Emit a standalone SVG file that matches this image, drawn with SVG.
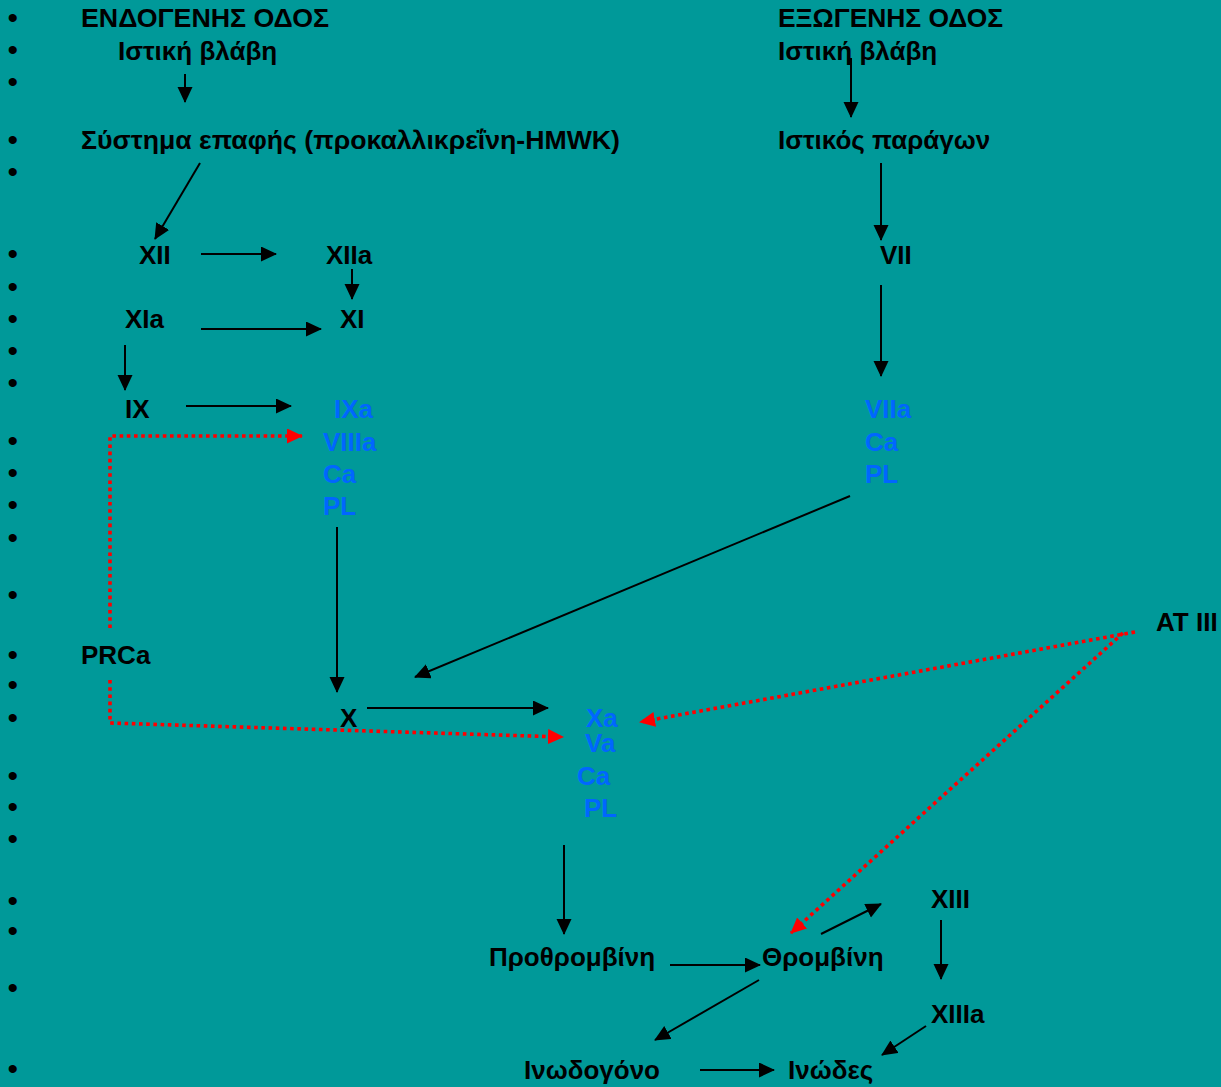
<svg xmlns="http://www.w3.org/2000/svg" width="1221" height="1087" viewBox="0 0 1221 1087">
  <style>
    .t { font-family: "Liberation Sans", Arial, sans-serif; font-weight: bold; font-size: 26px; fill: #000; }
    .b { fill: #0066ff; }
    .bul { font-family: "Liberation Sans", Arial, sans-serif; font-size: 30px; fill: #000; }
    .arr { stroke: #000; stroke-width: 2; fill: none; marker-end: url(#head); }
    .inh { stroke: #ff0000; stroke-width: 3.6; stroke-dasharray: 3.6 3.6; fill: none; marker-end: url(#redhead); }
  </style>
  <defs>
    <marker id="head" markerUnits="userSpaceOnUse" markerWidth="18" markerHeight="16" refX="15" refY="7.5" orient="auto">
      <path d="M0,0 L16,7.5 L0,15 z" fill="#000"/>
    </marker>
    <marker id="redhead" markerUnits="userSpaceOnUse" markerWidth="18" markerHeight="17" refX="15" refY="7.5" orient="auto">
      <path d="M0,0 L16,7.5 L0,15 z" fill="#ff0000"/>
    </marker>
  </defs>

  <rect x="0" y="0" width="1221" height="1087" fill="#009999"/>

  <!-- bullet column -->
  <g id="bullets" class="bul">
    <text x="7.5" y="28">•</text>
    <text x="7.5" y="60">•</text>
    <text x="7.5" y="92">•</text>
    <text x="7.5" y="150">•</text>
    <text x="7.5" y="182">•</text>
    <text x="7.5" y="264">•</text>
    <text x="7.5" y="297">•</text>
    <text x="7.5" y="329">•</text>
    <text x="7.5" y="361">•</text>
    <text x="7.5" y="393">•</text>
    <text x="7.5" y="451">•</text>
    <text x="7.5" y="483">•</text>
    <text x="7.5" y="515">•</text>
    <text x="7.5" y="548">•</text>
    <text x="7.5" y="605">•</text>
    <text x="7.5" y="665">•</text>
    <text x="7.5" y="695">•</text>
    <text x="7.5" y="728">•</text>
    <text x="7.5" y="786">•</text>
    <text x="7.5" y="817">•</text>
    <text x="7.5" y="849">•</text>
    <text x="7.5" y="911">•</text>
    <text x="7.5" y="941">•</text>
    <text x="7.5" y="998">•</text>
    <text x="7.5" y="1079">•</text>
  </g>

  <!-- intrinsic pathway -->
  <g id="endo-title"><text class="t" x="81" y="27" textLength="248" lengthAdjust="spacingAndGlyphs">ΕΝΔΟΓΕΝΗΣ ΟΔΟΣ</text></g>
  <g id="endo-injury"><text class="t" x="118" y="60">Ιστική βλάβη</text></g>
  <g id="contact"><text class="t" x="81" y="149" textLength="539" lengthAdjust="spacingAndGlyphs">Σύστημα επαφής (προκαλλικρεΐνη-HMWK)</text></g>
  <g id="f12"><text class="t" x="139" y="264">XII</text></g>
  <g id="f12a"><text class="t" x="326" y="264">XIIa</text></g>
  <g id="f11a"><text class="t" x="125" y="328">XIa</text></g>
  <g id="f11"><text class="t" x="340" y="328">XI</text></g>
  <g id="f9"><text class="t" x="125" y="418">IX</text></g>
  <g id="tenase">
    <text class="t b" x="334" y="418">IXa</text>
    <text class="t b" x="323" y="451">VIIIa</text>
    <text class="t b" x="323" y="483">Ca</text>
    <text class="t b" x="323" y="515">PL</text>
  </g>
  <g id="prca"><text class="t" x="81" y="664">PRCa</text></g>
  <g id="f10"><text class="t" x="340" y="727">X</text></g>
  <g id="prothrombinase">
    <text class="t b" x="586" y="727">Xa</text>
    <text class="t b" x="585" y="752">Va</text>
    <text class="t b" x="577" y="785">Ca</text>
    <text class="t b" x="584" y="817">PL</text>
  </g>

  <!-- extrinsic pathway -->
  <g id="exo-title"><text class="t" x="778" y="27" textLength="225" lengthAdjust="spacingAndGlyphs">ΕΞΩΓΕΝΗΣ ΟΔΟΣ</text></g>
  <g id="exo-injury"><text class="t" x="778" y="60">Ιστική βλάβη</text></g>
  <g id="tissue-factor"><text class="t" x="778" y="149">Ιστικός παράγων</text></g>
  <g id="f7"><text class="t" x="880" y="264">VII</text></g>
  <g id="f7a-complex">
    <text class="t b" x="865" y="418">VIIa</text>
    <text class="t b" x="865" y="451">Ca</text>
    <text class="t b" x="865" y="483">PL</text>
  </g>
  <g id="at3"><text class="t" x="1156" y="631">AT III</text></g>

  <!-- common pathway -->
  <g id="prothrombin"><text class="t" x="489" y="966">Προθρομβίνη</text></g>
  <g id="thrombin"><text class="t" x="762" y="966">Θρομβίνη</text></g>
  <g id="f13"><text class="t" x="931" y="908">XIII</text></g>
  <g id="f13a"><text class="t" x="931" y="1023">XIIIa</text></g>
  <g id="fibrinogen"><text class="t" x="524" y="1079">Ινωδογόνο</text></g>
  <g id="fibrin"><text class="t" x="788" y="1079">Ινώδες</text></g>

  <!-- connectors -->
  <g id="connectors">
    <line class="arr" x1="185" y1="74" x2="185" y2="102"/>
    <line class="arr" x1="200" y1="163" x2="155" y2="239"/>
    <line class="arr" x1="201" y1="254" x2="276" y2="254"/>
    <line class="arr" x1="352" y1="269" x2="352" y2="299"/>
    <line class="arr" x1="201" y1="329" x2="321" y2="329"/>
    <line class="arr" x1="125" y1="345" x2="125" y2="390"/>
    <line class="arr" x1="186" y1="406" x2="291" y2="406"/>
    <line class="arr" x1="337" y1="527" x2="337" y2="692"/>
    <line class="arr" x1="367" y1="708" x2="548" y2="708"/>
    <line class="arr" x1="851" y1="58" x2="851" y2="117"/>
    <line class="arr" x1="881" y1="163" x2="881" y2="240"/>
    <line class="arr" x1="881" y1="285" x2="881" y2="376"/>
    <line class="arr" x1="850" y1="496" x2="415" y2="677"/>
    <line class="arr" x1="564" y1="845" x2="564" y2="934"/>
    <line class="arr" x1="670" y1="965" x2="760" y2="965"/>
    <line class="arr" x1="821" y1="934" x2="881" y2="904"/>
    <line class="arr" x1="941" y1="920" x2="941" y2="979"/>
    <line class="arr" x1="759" y1="980" x2="655" y2="1040"/>
    <line class="arr" x1="926" y1="1026" x2="882" y2="1055"/>
    <line class="arr" x1="700" y1="1070" x2="774" y2="1070"/>

    <!-- inhibitory (dotted red) -->
    <path class="inh" d="M110,628 L110,436 L302,436"/>
    <path class="inh" d="M110,680 L110,723 L563,737"/>
    <line class="inh" x1="1135" y1="632" x2="640" y2="722"/>
    <line class="inh" x1="1123" y1="633" x2="791" y2="933"/>
  </g>
</svg>
